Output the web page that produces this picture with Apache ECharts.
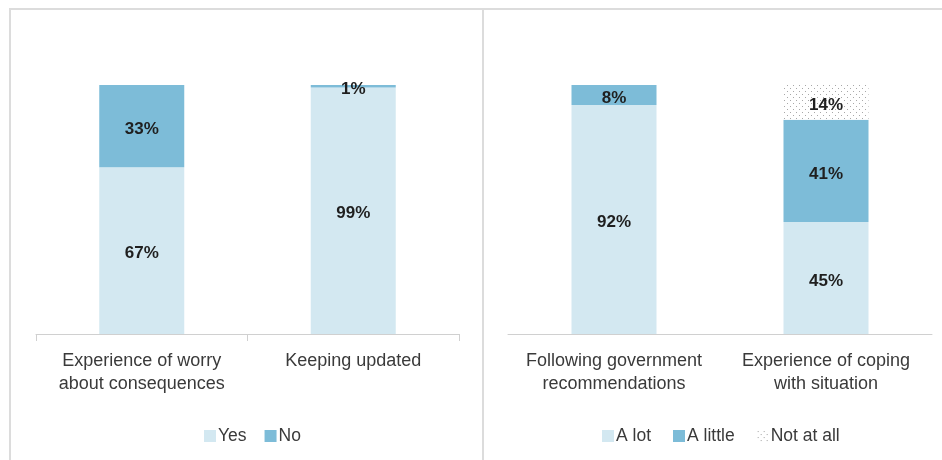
<!DOCTYPE html>
<html>
<head>
<meta charset="utf-8">
<script src="https://cdn.jsdelivr.net/npm/echarts@6/dist/echarts.min.js"></script>
<style>
html,body{margin:0;padding:0;background:#fff;}
#c{width:942px;height:460px;}
</style>
</head>
<body>
<div id="c"></div>
<script>
// Left panel data
const leftCategories = ['Experience of worry\nabout consequences', 'Keeping updated'];
const yesValues = [67, 99];
const noValues = [33, 1];

// Right panel data
const rightCategories = ['Following government\nrecommendations', 'Experience of coping\nwith situation'];
const aLotValues = [92, 45];
const aLittleValues = [8, 41];
const notAtAllValues = [null, 14];

const LIGHT = '#d3e8f1';
const MID = '#7dbcd8';
const FONT = 'Liberation Sans, Arial, sans-serif';

// dotted pattern for "Not at all"
const pc = document.createElement('canvas');
pc.width = 6; pc.height = 6;
const pctx = pc.getContext('2d');
pctx.fillStyle = '#ffffff';
pctx.fillRect(0, 0, 6, 6);
pctx.fillStyle = '#a8a8a8';
pctx.fillRect(1, 1, 1, 1);
pctx.fillRect(4, 4, 1, 1);
const dotted = { image: pc, repeat: 'repeat' };

const labelStyle = {
  show: true,
  position: 'inside',
  offset: [0, 3],
  fontFamily: FONT,
  fontSize: 17,
  fontWeight: 'bold',
  color: '#1f1f1f',
  formatter: p => p.value == null ? '' : p.value + '%'
};

const axisLabelStyle = {
  fontFamily: FONT,
  fontSize: 18,
  color: '#3a3a3a',
  lineHeight: 23,
  margin: 16,
  interval: 0
};

const legendText = { fontFamily: FONT, fontSize: 17.5, color: '#3a3a3a', padding: [0, 0, 0, -3] };

const chart = echarts.init(document.getElementById('c'), null, { renderer: 'canvas' });
chart.setOption({
  animation: false,
  backgroundColor: '#ffffff',
  graphic: [
    { type: 'line', shape: { x1: 9, y1: 9, x2: 942, y2: 9 }, style: { stroke: '#dcdcdc', lineWidth: 2 } },
    { type: 'line', shape: { x1: 10, y1: 8, x2: 10, y2: 460 }, style: { stroke: '#dcdcdc', lineWidth: 2 } },
    { type: 'line', shape: { x1: 483, y1: 8, x2: 483, y2: 460 }, style: { stroke: '#dcdcdc', lineWidth: 2 } }
  ],
  legend: [
    {
      data: ['Yes', 'No'],
      left: 199, top: 422,
      itemWidth: 12, itemHeight: 12, itemGap: 18,
      icon: 'rect',
      textStyle: legendText
    },
    {
      data: ['A lot', 'A little', 'Not at all'],
      left: 597, top: 422,
      itemWidth: 12, itemHeight: 12, itemGap: 22,
      icon: 'rect',
      textStyle: legendText
    }
  ],
  grid: [
    { left: 36, right: 483, top: 85, bottom: 126 },
    { left: 508, right: 10, top: 85, bottom: 126 }
  ],
  xAxis: [
    {
      type: 'category', gridIndex: 0, data: leftCategories,
      axisLine: { lineStyle: { color: '#d0d0d0', width: 1 } },
      axisTick: { show: true, length: 7, lineStyle: { color: '#d0d0d0' } },
      axisLabel: axisLabelStyle
    },
    {
      type: 'category', gridIndex: 1, data: rightCategories,
      axisLine: { lineStyle: { color: '#d0d0d0', width: 1 } },
      axisTick: { show: false },
      axisLabel: axisLabelStyle
    }
  ],
  yAxis: [
    { type: 'value', gridIndex: 0, min: 0, max: 100, show: false, splitLine: { show: false } },
    { type: 'value', gridIndex: 1, min: 0, max: 100, show: false, splitLine: { show: false } }
  ],
  series: [
    { name: 'Yes', type: 'bar', stack: 'l', xAxisIndex: 0, yAxisIndex: 0, barWidth: 85, data: yesValues, itemStyle: { color: LIGHT }, label: labelStyle },
    { name: 'No', type: 'bar', stack: 'l', xAxisIndex: 0, yAxisIndex: 0, barWidth: 85, data: noValues, itemStyle: { color: MID }, label: labelStyle },
    { name: 'A lot', type: 'bar', stack: 'r', xAxisIndex: 1, yAxisIndex: 1, barWidth: 85, data: aLotValues, itemStyle: { color: LIGHT }, label: labelStyle },
    { name: 'A little', type: 'bar', stack: 'r', xAxisIndex: 1, yAxisIndex: 1, barWidth: 85, data: aLittleValues, itemStyle: { color: MID }, label: labelStyle },
    { name: 'Not at all', type: 'bar', stack: 'r', xAxisIndex: 1, yAxisIndex: 1, barWidth: 85, data: notAtAllValues, itemStyle: { color: dotted }, label: labelStyle }
  ]
});
</script>
</body>
</html>
